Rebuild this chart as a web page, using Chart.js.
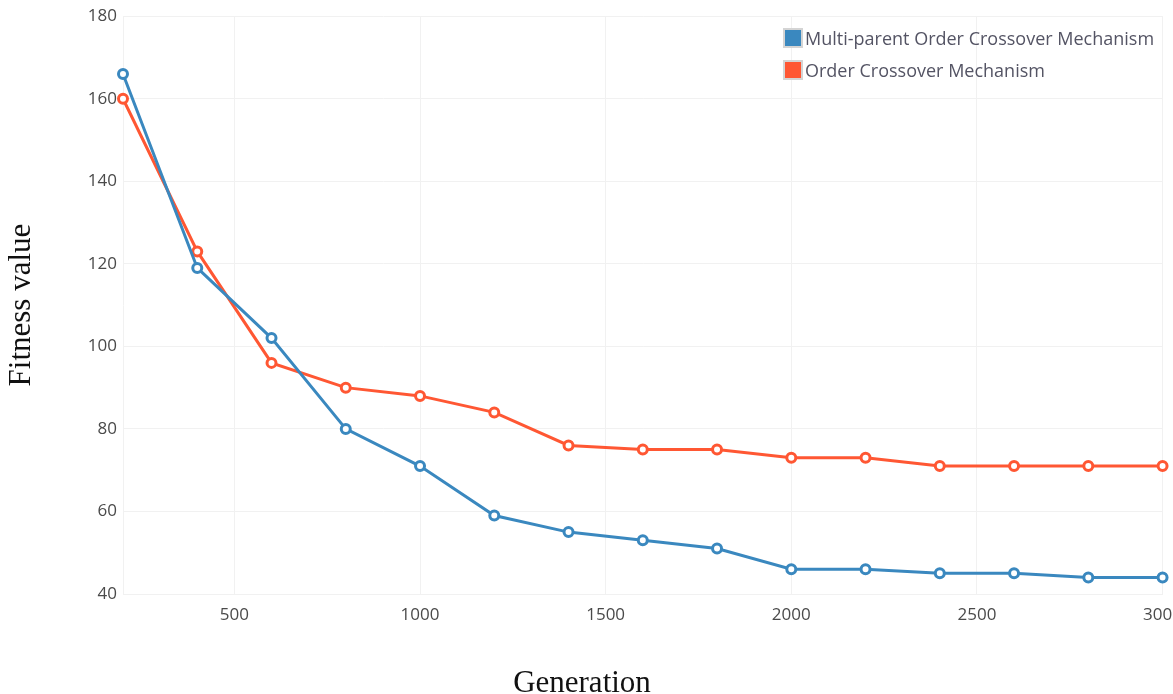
<!DOCTYPE html>
<html>
<head>
<meta charset="utf-8">
<script src="https://cdn.jsdelivr.net/npm/chart.js@4.4.1/dist/chart.umd.min.js"></script>
<style>
    html, body { margin: 0; padding: 0; background: #fff; overflow: hidden; }
    #wrap { position: relative; width: 1193px; height: 694px; }
    #legend { position: absolute; left: 783px; top: 22px; font-family: "Open Sans", sans-serif; font-size: 18px; color: #545464; }
    #legend .item { display: flex; align-items: center; height: 32px; }
    #legend .box { width: 16px; height: 16px; border: 2px solid #d4d4d4; margin-right: 2px; box-sizing: content-box; }
    #xTitle { position: absolute; left: 382px; width: 400px; top: 666px; text-align: center;
              font-family: "Liberation Serif", serif; font-size: 31px; line-height: 31px; color: #111; white-space: nowrap; }
</style>
</head>
<body>
<div id="wrap">
    <canvas id="fitnessChart" width="1193" height="694"></canvas>
    <div id="legend"></div>
    <div id="xTitle"></div>
</div>
<script>
// Generations sampled
const generations = [200, 400, 600, 800, 1000, 1200, 1400, 1600, 1800, 2000, 2200, 2400, 2600, 2800, 3000];

// Fitness values
const multiParentOX = [166, 119, 102, 80, 71, 59, 55, 53, 51, 46, 46, 45, 45, 44, 44];
const orderOX = [160, 123, 96, 90, 88, 84, 76, 75, 75, 73, 73, 71, 71, 71, 71];

const seriesLabels = ['Multi-parent Order Crossover Mechanism', 'Order Crossover Mechanism'];
const seriesColors = ['#3a88bf', '#ff5733'];

const xTicks = [500, 1000, 1500, 2000, 2500, 3000];
const yTicks = [40, 60, 80, 100, 120, 140, 160, 180];

const xTitleText = 'Generation';
const yTitleText = 'Fitness value';

function toPoints(values) {
    return generations.map((g, i) => ({ x: g, y: values[i] }));
}

document.addEventListener('DOMContentLoaded', function() {
    const ctx = document.getElementById('fitnessChart').getContext('2d');
    const gridColor = '#f1f1f1';
    const tickFont = { family: 'Open Sans', size: 17 };
    const titleFont = { family: 'Liberation Serif', size: 31, lineHeight: 0.7 };

    const chart = new Chart(ctx, {
        type: 'line',
        data: {
            datasets: [multiParentOX, orderOX].map((vals, i) => ({
                label: seriesLabels[i],
                data: toPoints(vals),
                borderColor: seriesColors[i],
                backgroundColor: '#ffffff',
                borderWidth: 3,
                pointRadius: 4.5,
                pointBorderWidth: 3,
                pointBackgroundColor: '#ffffff',
                pointBorderColor: seriesColors[i],
                tension: 0,
                clip: false
            }))
        },
        options: {
            responsive: false,
            animation: false,
            layout: { padding: { top: 15, left: 0, bottom: 0, right: 0 } },
            plugins: {
                legend: { display: false },
                tooltip: { enabled: false }
            },
            scales: {
                x: {
                    type: 'linear',
                    min: 200,
                    max: 3000,
                    afterBuildTicks: function(scale) {
                        scale.ticks = xTicks.map(v => ({ value: v }));
                    },
                    afterFit: function(scale) { scale.height = 100; },
                    grid: { color: gridColor, drawTicks: false },
                    border: { color: gridColor },
                    ticks: {
                        font: tickFont, color: '#4a4a4a', padding: 11, maxRotation: 0,
                        callback: v => String(v)
                    },
                    // title is drawn as HTML below (it sits off-centre in the original)
                    title: { display: false }
                },
                y: {
                    min: 40,
                    max: 180,
                    afterBuildTicks: function(scale) {
                        scale.ticks = yTicks.map(v => ({ value: v }));
                    },
                    afterFit: function(scale) { scale.width = 123; },
                    grid: { color: gridColor, drawTicks: false },
                    border: { color: gridColor },
                    ticks: { font: tickFont, color: '#4a4a4a', padding: 6, callback: v => String(v) },
                    title: {
                        display: true,
                        text: yTitleText,
                        font: titleFont,
                        color: '#111',
                        padding: { top: 11, bottom: 0 }
                    }
                }
            }
        }
    });

    document.getElementById('xTitle').textContent = xTitleText;

    // HTML legend built from the datasets
    const legend = document.getElementById('legend');
    chart.data.datasets.forEach(ds => {
        const item = document.createElement('div');
        item.className = 'item';
        item.innerHTML = `<span class="box" style="background:${ds.borderColor}"></span><span>${ds.label}</span>`;
        legend.appendChild(item);
    });
});
</script>
</body>
</html>
